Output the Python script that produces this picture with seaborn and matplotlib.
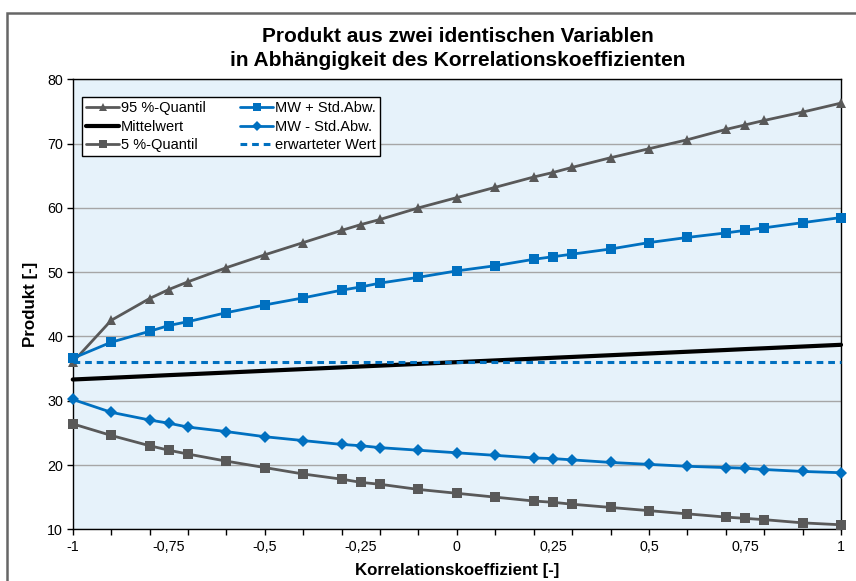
import pandas as pd
import seaborn as sns
import matplotlib.pyplot as plt
from matplotlib.lines import Line2D
from matplotlib.patches import Rectangle

rho = [-1, -0.9, -0.8, -0.75, -0.7, -0.6, -0.5, -0.4, -0.3, -0.25, -0.2, -0.1, 0,
       0.1, 0.2, 0.25, 0.3, 0.4, 0.5, 0.6, 0.7, 0.75, 0.8, 0.9, 1]

q95 = [36.0, 42.5, 45.9, 47.3, 48.5, 50.7, 52.7, 54.6, 56.5, 57.4, 58.2, 60.0, 61.6,
       63.2, 64.8, 65.5, 66.3, 67.8, 69.2, 70.6, 72.2, 72.9, 73.6, 74.9, 76.3]
mittelwert = [33.30, 33.57, 33.84, 33.98, 34.11, 34.38, 34.65, 34.92, 35.19, 35.33, 35.46,
              35.73, 36.00, 36.27, 36.54, 36.68, 36.81, 37.08, 37.35, 37.62, 37.89, 38.03,
              38.16, 38.43, 38.70]
q05 = [26.4, 24.6, 23.0, 22.3, 21.7, 20.6, 19.6, 18.6, 17.8, 17.3, 17.0, 16.2, 15.6,
       15.0, 14.4, 14.2, 13.9, 13.4, 12.9, 12.4, 11.9, 11.7, 11.5, 11.0, 10.7]
mw_plus = [36.6, 39.1, 40.8, 41.7, 42.3, 43.7, 44.9, 46.0, 47.2, 47.7, 48.3, 49.2, 50.2,
           51.0, 52.0, 52.4, 52.8, 53.6, 54.6, 55.4, 56.1, 56.5, 56.9, 57.7, 58.5]
mw_minus = [30.2, 28.2, 27.0, 26.5, 25.9, 25.2, 24.4, 23.8, 23.2, 23.0, 22.7, 22.3, 21.9,
            21.5, 21.1, 21.0, 20.8, 20.4, 20.1, 19.8, 19.6, 19.5, 19.3, 19.0, 18.8]
erwartet = [36.0] * len(rho)

xtick_pos = [-1, -0.75, -0.5, -0.25, 0, 0.25, 0.5, 0.75, 1]
xtick_labels = ['-1', '-0,75', '-0,5', '-0,25', '0', '0,25', '0,5', '0,75', '1']

df = pd.DataFrame({'rho': rho, 'q95': q95, 'mw': mittelwert, 'q05': q05,
                   'mw_plus': mw_plus, 'mw_minus': mw_minus, 'erw': erwartet})

sns.set_style("white")
plt.rcParams['font.family'] = ['Liberation Sans', 'DejaVu Sans']
plt.rcParams['text.color'] = 'black'
plt.rcParams['axes.labelcolor'] = 'black'
plt.rcParams['xtick.color'] = 'black'
plt.rcParams['ytick.color'] = 'black'

grey = '#595959'
blue = '#0070C0'

fig = plt.figure(figsize=(8.56, 5.81), dpi=100)
ax = fig.add_axes([0.085, 0.089, 0.8975, 0.7745])
ax.set_facecolor('#E6F2FA')

series = [
    ('q95', '95 %-Quantil', grey, '-', '^', 7.5, 2.0),
    ('mw', 'Mittelwert', 'black', '-', None, 0, 3.0),
    ('q05', '5 %-Quantil', grey, '-', 's', 6.5, 2.0),
    ('mw_plus', 'MW + Std.Abw.', blue, '-', 's', 6.5, 2.0),
    ('mw_minus', 'MW - Std.Abw.', blue, '-', 'D', 6.0, 2.0),
    ('erw', 'erwarteter Wert', blue, (0, (2.2, 1.6)), None, 0, 2.2),
]

handles = []
for col, label, color, ls, marker, ms, lw in series:
    sns.lineplot(data=df, x='rho', y=col, ax=ax, color=color, linestyle=ls,
                 marker=marker, markersize=ms, markeredgewidth=0, linewidth=lw,
                 zorder=3, clip_on=False)
    handles.append(Line2D([], [], color=color, linestyle=ls, marker=marker,
                          markersize=ms * 0.8, markeredgewidth=0, linewidth=lw))

ax.set_xlim(-1, 1)
ax.set_ylim(10, 80)
ax.set_yticks(range(10, 81, 10))
ax.yaxis.grid(True, color='#A6A6A6', linewidth=1.0)
ax.set_axisbelow(True)

# ticks every 0.1, labels every 0.25
ax.xaxis.remove_overlapping_locs = False
ax.set_xticks([i / 10 for i in range(-10, 11)])
ax.set_xticklabels([])
ax.set_xticks(xtick_pos, minor=True)
ax.set_xticklabels(xtick_labels, minor=True)
ax.tick_params(axis='x', which='major', direction='out', length=4, width=1, color='black')
ax.tick_params(axis='x', which='minor', length=0, pad=8, labelsize=10.3)
ax.tick_params(axis='y', direction='out', length=4, width=1, color='black', labelsize=10.3, pad=3)
ax.tick_params(bottom=True, left=True)

for s in ax.spines.values():
    s.set_color('black')
    s.set_linewidth(1.0)

ax.set_xlabel('Korrelationskoeffizient [-]', fontsize=12.2, fontweight='bold', va='center')
ax.set_ylabel('Produkt [-]', fontsize=12.2, fontweight='bold', va='center')
ax.xaxis.set_label_coords(0.5, -0.0905)
ax.yaxis.set_label_coords(-0.0554, 0.5)

fig.text(0.535, 0.916, 'Produkt aus zwei identischen Variablen\nin Abhängigkeit des Korrelationskoeffizienten',
         ha='center', va='center', fontsize=15, fontweight='bold', linespacing=1.35)

leg = ax.legend(handles, [s[1] for s in series], ncol=2, loc='upper left',
                bbox_to_anchor=(0.012, 0.961), fontsize=10.5, frameon=True,
                fancybox=False, edgecolor='black', framealpha=1, handlelength=2.25,
                handletextpad=0.1, columnspacing=2.4, labelspacing=0.3,
                borderpad=0.3, borderaxespad=0)
leg.get_frame().set_linewidth(1.0)

fig.patches.append(Rectangle((7 / 856, -0.1), 1.2, 1.1 - 13 / 581, transform=fig.transFigure,
                             fill=False, edgecolor='#666666', linewidth=1.8))

fig.savefig('out.png', dpi=100)
